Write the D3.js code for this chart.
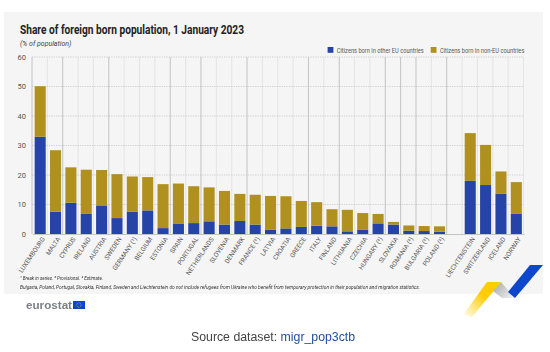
<!DOCTYPE html>
<html>
<head>
<meta charset="utf-8">
<script src="https://d3js.org/d3.v7.min.js"></script>
<style>
html, body { margin: 0; padding: 0; background: #fff; }
svg { display: block; filter: blur(0.45px); }
text { font-family: "Liberation Sans Narrow", "Roboto", sans-serif; }
.tick text { fill: #555; }
</style>
</head>
<body>
<svg></svg>
<script>
const countries = ["LUXEMBOURG", "MALTA", "CYPRUS", "IRELAND", "AUSTRIA", "SWEDEN", "GERMANY (¹)", "BELGIUM", "ESTONIA", "SPAIN", "PORTUGAL", "NETHERLANDS", "SLOVENIA", "DENMARK", "FRANCE (²)", "LATVIA", "CROATIA", "GREECE", "ITALY", "FINLAND", "LITHUANIA", "CZECHIA", "HUNGARY (²)", "SLOVAKIA", "ROMANIA (²)", "BULGARIA (²)", "POLAND (²)", "", "LIECHTENSTEIN", "SWITZERLAND", "ICELAND", "NORWAY"];
const otherEu = [33.0, 7.6, 10.6, 6.8, 9.7, 5.4, 7.6, 8.0, 2.0, 3.4, 3.7, 4.3, 3.2, 4.4, 3.2, 1.4, 1.9, 2.4, 2.8, 2.6, 0.9, 1.4, 3.6, 3.2, 1.1, 1.0, 0.8, 0, 18.0, 16.6, 13.7, 6.8];
const nonEu = [17.1, 20.8, 12.0, 15.0, 12.0, 14.9, 11.9, 11.3, 14.9, 13.7, 12.5, 11.5, 11.4, 9.2, 10.1, 11.5, 10.9, 8.8, 8.0, 5.8, 7.3, 5.7, 3.2, 0.9, 1.8, 1.7, 1.8, 0, 16.2, 13.6, 7.5, 10.8];
const yTicks = [0, 10, 20, 30, 40, 50, 60];
const seriesNames = ["Citizens born in other EU countries", "Citizens born in non-EU countries"];
const seriesColors = ["#2644a7", "#b09120"];

const width = 550, height = 352;
const svg = d3.select("svg").attr("width", width).attr("height", height);

// grey panel behind the chart
svg.append("rect").attr("x", 4).attr("y", 12).attr("width", 539).attr("height", 282).attr("fill", "#f5f5f5");

const x = d3.scaleBand().domain(countries.map((d, i) => i)).range([32.5, 524]).paddingInner(0.28).paddingOuter(0.14);
const y = d3.scaleLinear().domain([0, 60]).range([234, 57]);

// vertical grid, some lines come out darker in the source
const strongEdges = [0, 2, 5, 9, 11, 14, 18, 20, 23, 24, 25, 27];
const step = x.step();
svg.append("g").selectAll("line")
    .data(d3.range(countries.length + 1))
    .enter().append("line")
    .attr("x1", d => 32 + d * step)
    .attr("x2", d => 32 + d * step)
    .attr("y1", y(60))
    .attr("y2", y(0))
    .attr("stroke", d => strongEdges.includes(d) ? "#bdbdbd" : "#e2e2e2")
    .attr("stroke-width", 0.9);

svg.append("g").selectAll("line")
    .data(yTicks.slice(1))
    .enter().append("line")
    .attr("x1", 32)
    .attr("x2", 524)
    .attr("y1", d => y(d))
    .attr("y2", d => y(d))
    .attr("stroke", "#b5b5b5")
    .attr("stroke-width", 0.6)
    .attr("stroke-dasharray", "1.2,1.2");

const rows = countries.map((c, i) => ({ i: i, a: otherEu[i], b: nonEu[i] }));
const stacked = d3.stack().keys(["a", "b"])(rows);

svg.append("g").selectAll("g")
    .data(stacked)
    .enter().append("g")
    .attr("fill", (d, i) => seriesColors[i])
    .selectAll("rect")
    .data(d => d.filter(p => p.data.a + p.data.b > 0))
    .enter().append("rect")
    .attr("x", d => x(d.data.i))
    .attr("y", d => y(d[1]))
    .attr("width", x.bandwidth())
    .attr("height", d => y(d[0]) - y(d[1]));

const yAxis = d3.axisLeft(y).tickValues(yTicks).tickSize(0).tickPadding(6);
svg.append("g")
    .attr("transform", "translate(32,0)")
    .call(yAxis)
    .call(g => g.select(".domain").remove())
    .selectAll("text").style("font-size", "7.5px");

const xAxis = d3.axisBottom(x).tickSize(0).tickPadding(0).tickFormat(i => countries[i]);
svg.append("g")
    .attr("transform", "translate(0,234)")
    .call(xAxis)
    .call(g => g.select(".domain").attr("stroke", "#c4c4c4").attr("stroke-width", 1.2))
    .selectAll("text")
    .style("font-size", "6.4px")
    .style("text-anchor", "end")
    .attr("dx", -1.4)
    .attr("dy", 6.9)
    .attr("transform", "rotate(-56)");

svg.append("text").attr("x", 20).attr("y", 34)
    .attr("textLength", 224).attr("lengthAdjust", "spacingAndGlyphs")
    .style("font-size", "12.5px").style("font-weight", "bold").attr("fill", "#222")
    .text("Share of foreign born population, 1 January 2023");
svg.append("text").attr("x", 20).attr("y", 46)
    .style("font-size", "7px").style("font-style", "italic").attr("fill", "#444")
    .text("(% of population)");

// legend
const legendX = [327.6, 430.7];
const legendLen = [87, 84.5];
const legend = svg.append("g").selectAll("g")
    .data(seriesNames)
    .enter().append("g")
    .attr("transform", (d, i) => `translate(${legendX[i]},47)`);
legend.append("rect").attr("width", 5.8).attr("height", 5.8).attr("fill", (d, i) => seriesColors[i]);
legend.append("text").attr("x", 9.2).attr("y", 5.6)
    .attr("textLength", (d, i) => legendLen[i]).attr("lengthAdjust", "spacingAndGlyphs")
    .style("font-size", "7px").attr("fill", "#555")
    .text(d => d);

// notes
svg.append("text").attr("x", 20).attr("y", 280)
    .style("font-size", "6.2px").style("font-style", "italic").attr("fill", "#333")
    .attr("textLength", 83).attr("lengthAdjust", "spacingAndGlyphs")
    .text("¹ Break in series. ² Provisional. ³ Estimate.");
svg.append("text").attr("x", 20).attr("y", 289)
    .style("font-size", "6.2px").style("font-style", "italic").attr("fill", "#333")
    .attr("textLength", 400).attr("lengthAdjust", "spacingAndGlyphs")
    .text("Bulgaria, Poland, Portugal, Slovakia, Finland, Sweden and Liechtenstein do not include refugees from Ukraine who benefit from temporary protection in their population and migration statistics.");

// corner ribbon
const defs = svg.append("defs");
const fade = defs.append("linearGradient").attr("id", "ribbonFade")
    .attr("gradientUnits", "userSpaceOnUse")
    .attr("x1", 495).attr("y1", 284).attr("x2", 464).attr("y2", 318);
fade.append("stop").attr("offset", 0.35).attr("stop-color", "#ffcc00");
fade.append("stop").attr("offset", 1).attr("stop-color", "#ffcc00").attr("stop-opacity", 0);
const fadeGrey = defs.append("linearGradient").attr("id", "ribbonGrey")
    .attr("gradientUnits", "userSpaceOnUse")
    .attr("x1", 497).attr("y1", 286).attr("x2", 512).attr("y2", 298);
fadeGrey.append("stop").attr("offset", 0).attr("stop-color", "#b4b6ba");
fadeGrey.append("stop").attr("offset", 1).attr("stop-color", "#f0f0f0");
svg.append("path").attr("d", "M487,282L501,282L472,317L463,315Z").attr("fill", "url(#ribbonFade)");
svg.append("path").attr("d", "M501,282L515,298L502,298L493,291Z").attr("fill", "url(#ribbonGrey)");
svg.append("path").attr("d", "M530,265L543,265L515,298L508,292Z").attr("fill", "#0e47cb");

// logo
svg.append("text").attr("x", 26).attr("y", 309)
    .attr("textLength", 46).attr("lengthAdjust", "spacingAndGlyphs")
    .style("font-family", "'Liberation Sans', sans-serif").style("font-size", "11px").style("font-weight", "bold")
    .attr("fill", "#7b8087").text("eurostat");
svg.append("rect").attr("x", 73).attr("y", 301).attr("width", 12).attr("height", 8).attr("fill", "#0e47cb");
svg.append("circle").attr("cx", 79).attr("cy", 305).attr("r", 2.2).attr("fill", "none")
    .attr("stroke", "#ffcc00").attr("stroke-width", 0.7).attr("stroke-dasharray", "0.8,0.7");

const source = svg.append("text").attr("x", 191).attr("y", 341)
    .style("font-family", "'Liberation Sans', sans-serif").style("font-size", "12.3px").attr("fill", "#444");
source.append("tspan").text("Source dataset: ");
source.append("tspan").attr("fill", "#1f4e9e").text("migr_pop3ctb");
</script>
</body>
</html>
